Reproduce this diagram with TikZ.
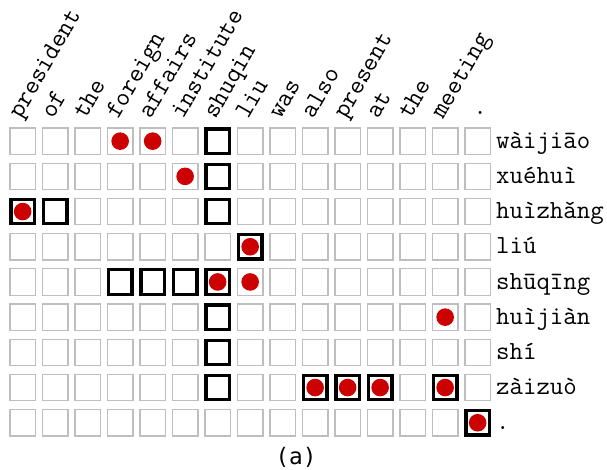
\documentclass[tikz,border=0pt]{standalone}
\usepackage{fontspec}
\newfontfamily\capfont{DejaVu Sans Mono}
\definecolor{cellgray}{RGB}{190,190,190}
\definecolor{dotred}{RGB}{204,0,0}
\begin{document}
\begin{tikzpicture}[x=1pt,y=-1pt,
  cell/.style={draw=cellgray, line width=1.2pt, minimum width=25.5pt, minimum height=26.5pt, inner sep=0pt, outer sep=0pt},
  hlbox/.style={draw=black, line width=3.3pt, minimum width=23.4pt, minimum height=24.4pt, inner sep=0pt},
  rdot/.style={circle, fill=dotred, minimum size=17.6pt, inner sep=0pt},
  lab/.style={font={\ttfamily\fontsize{26.1pt}{30pt}\selectfont}, inner sep=0pt},
  collab/.style={lab, rotate=60, anchor=base west},
  rowlab/.style={lab, anchor=base west}]
\useasboundingbox (0,0) rectangle (607,469);
\foreach \r in {0,...,8}
  \foreach \c in {0,...,14}
    \node[cell] (c-\r-\c) at ({22.65+32.5*\c},{141.15+35.2*\r}) {};
\foreach \r/\c in {0/6,1/6,2/0,2/1,2/6,3/7,4/3,4/4,4/5,4/6,5/6,6/6,7/6,7/9,7/10,7/11,7/13,8/14}
  \node[hlbox] (h-\r-\c) at (c-\r-\c) {};
\foreach \r/\c in {0/3,0/4,1/5,2/0,3/7,4/6,4/7,5/13,7/9,7/10,7/11,7/13,8/14}
  \node[rdot] (d-\r-\c) at (c-\r-\c) {};
\foreach \c/\w in {0/president,1/of,2/the,3/foreign,4/affairs,5/institute,6/shuqin,7/liu,8/was,9/also,10/present,11/at,12/the,13/meeting}
  \node[collab] (l-\c) at ({20.5+32.5*\c},120) {\w};
\node[collab] (l-14) at (478,120) {.};
\foreach \r/\w in {0/wàijiāo,1/xuéhuì,2/huìzhǎng,3/liú,4/shūqīng,5/huìjiàn,6/shí,7/zàizuò,8/.}
  \node[rowlab] (r-\r) at (496,{148.25+35.2*\r}) {\w};
\node[font={\capfont\fontsize{22.7pt}{27pt}\selectfont}, inner sep=0pt, anchor=base] (cap) at (296,464.5) {(a)};
\end{tikzpicture}
\end{document}
